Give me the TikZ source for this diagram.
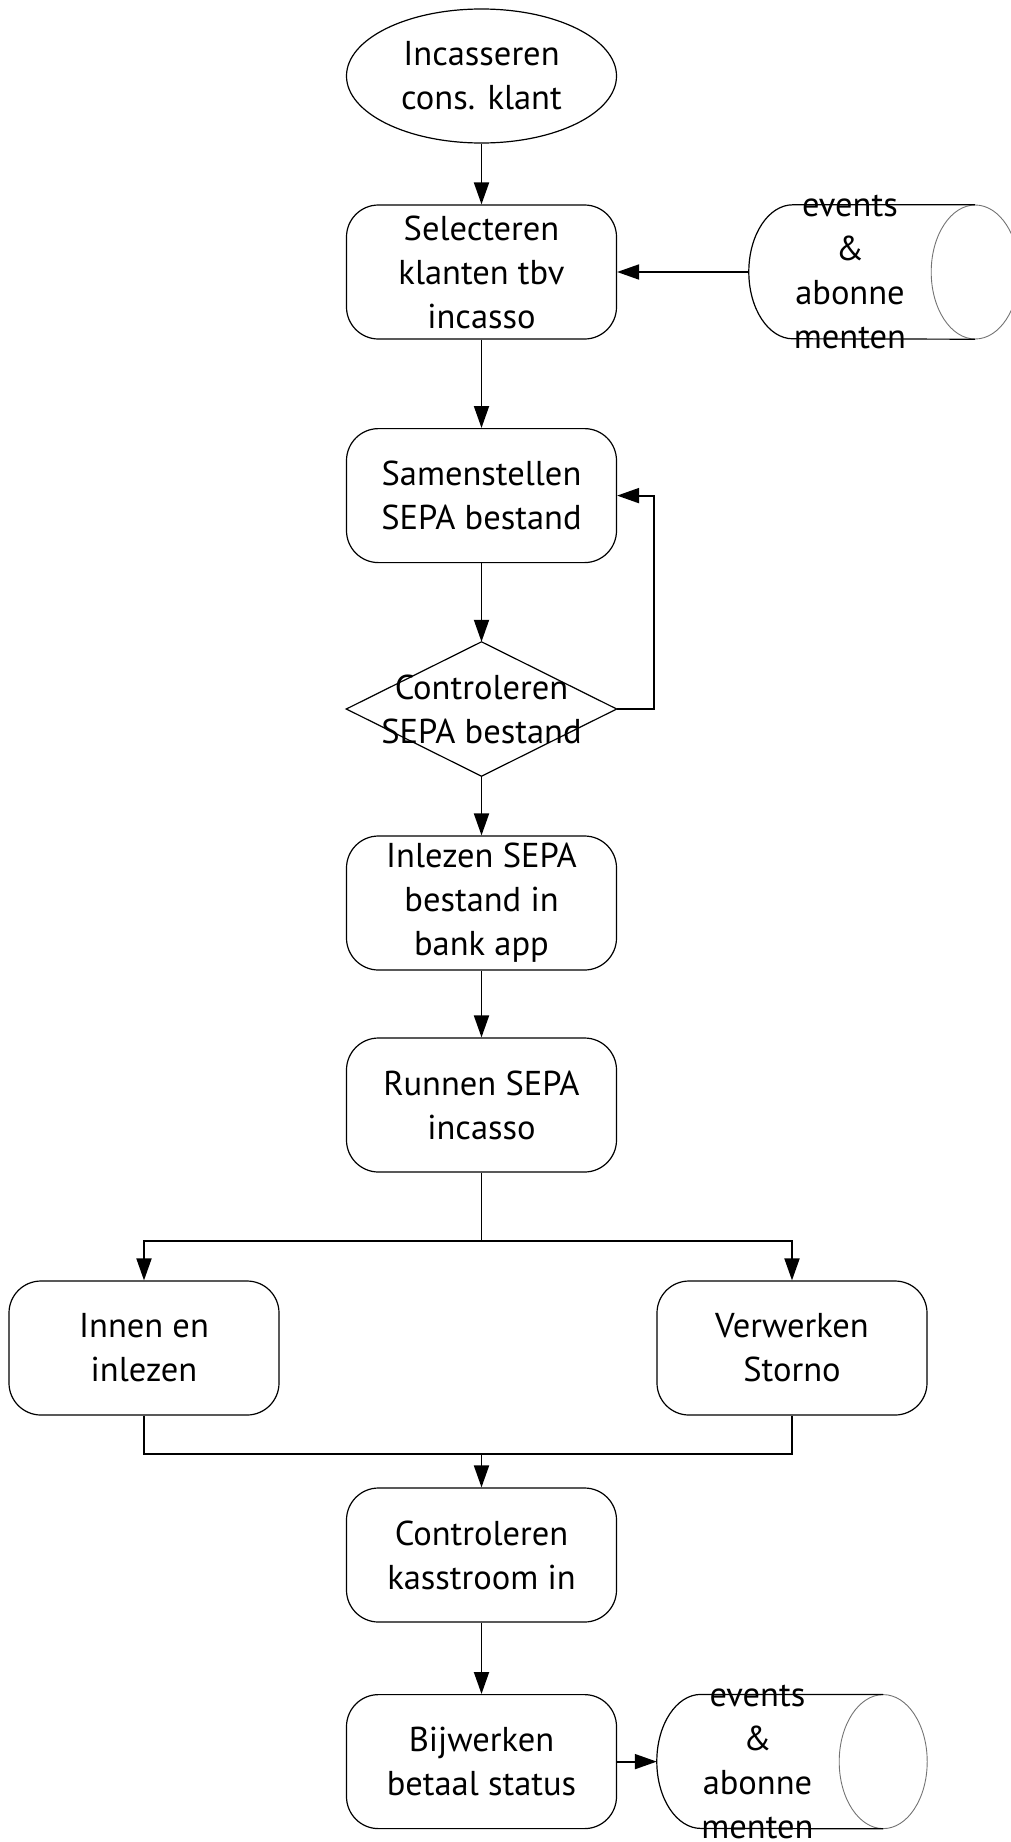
\documentclass[tikz,border=0pt]{standalone}
\usepackage{fontspec}
\setmainfont{PT Sans}
\usetikzlibrary{arrows.meta,shapes.geometric}

\tikzset{
  x=1pt, y=-1pt,
  every node/.style={font=\fontsize{34.5}{44}\selectfont, align=center, inner sep=0pt},
  procbox/.style={draw, line width=1.2pt, rectangle, rounded corners=32pt,
                  minimum width=270pt, minimum height=134pt},
  startnode/.style={draw, line width=1.2pt, ellipse,
                    minimum width=270pt, minimum height=134pt},
  holder/.style={rectangle, minimum width=270pt, minimum height=134pt},
  shapeline/.style={line width=1.2pt},
  capline/.style={line width=0.9pt, draw=black!55},
  link/.style={line width=1.9pt},
  arr/.style={link, -{Triangle[length=22pt, width=15pt]}},
}

\begin{document}
\begin{tikzpicture}
\useasboundingbox (0,0) rectangle (1010,1842);

% main column
\node[startnode] (start) at (481.5,76) {Incasseren\\cons. klant};
\node[procbox] (sel) at (481.5,272) {Selecteren\\klanten tbv\\incasso};
\node[procbox] (sam) at (481.5,495.6) {Samenstellen\\SEPA bestand};
\node[holder] (chk) at (481.5,709) {Controleren\\SEPA bestand};
\draw[shapeline] (chk.north) -- (chk.east) -- (chk.south) -- (chk.west) -- cycle;
\node[procbox] (inl) at (481.5,903) {Inlezen SEPA\\bestand in\\bank app};
\node[procbox] (run) at (481.5,1105) {Runnen SEPA\\incasso};
\node[procbox] (innen) at (144,1348) {Innen en\\inlezen};
\node[procbox] (verw) at (792,1348) {Verwerken\\Storno};
\node[procbox] (kas) at (481.5,1555) {Controleren\\kasstroom in};
\node[procbox] (bij) at (481.5,1761.6) {Bijwerken\\betaal status};

% data stores (horizontal cylinders)
\node[holder] (db1) at (884,272) {};
\draw[capline] ([xshift=-44pt]db1.east) ellipse [x radius=44pt, y radius=67pt];
\draw[shapeline] ([xshift=-44pt]db1.north east) -- ([xshift=44pt]db1.north west)
  arc[start angle=90, end angle=270, x radius=44pt, y radius=67pt]
  -- ([xshift=-44pt]db1.south east);
\node (db1text) at (850,272) {events\\\&\\abonne\\menten};

\node[holder] (db2) at (792,1761.6) {};
\draw[capline] ([xshift=-44pt]db2.east) ellipse [x radius=44pt, y radius=67pt];
\draw[shapeline] ([xshift=-44pt]db2.north east) -- ([xshift=44pt]db2.north west)
  arc[start angle=90, end angle=270, x radius=44pt, y radius=67pt]
  -- ([xshift=-44pt]db2.south east);
\node (db2text) at (757.5,1761.6) {events\\\&\\abonne\\menten};

% connectors
\coordinate (split) at (481.5,1241);
\coordinate (merge) at (481.5,1454);

\draw[arr] (start) -- (sel);
\draw[arr] (db1.west) -- (sel.east);
\draw[arr] (sel) -- (sam);
\draw[arr] (sam) -- (chk.north);
\draw[arr] (chk.east) -- ++(37,0) |- (sam.east);
\draw[arr] (chk.south) -- (inl);
\draw[arr] (inl) -- (run);
\draw[link] (run) -- (split);
\draw[arr] (split) -| (innen);
\draw[arr] (split) -| (verw);
\draw[link] (innen) |- (merge);
\draw[link] (verw) |- (merge);
\draw[arr] (merge) -- (kas);
\draw[arr] (kas) -- (bij);
\draw[arr] (bij) -- (db2.west);
\end{tikzpicture}
\end{document}
